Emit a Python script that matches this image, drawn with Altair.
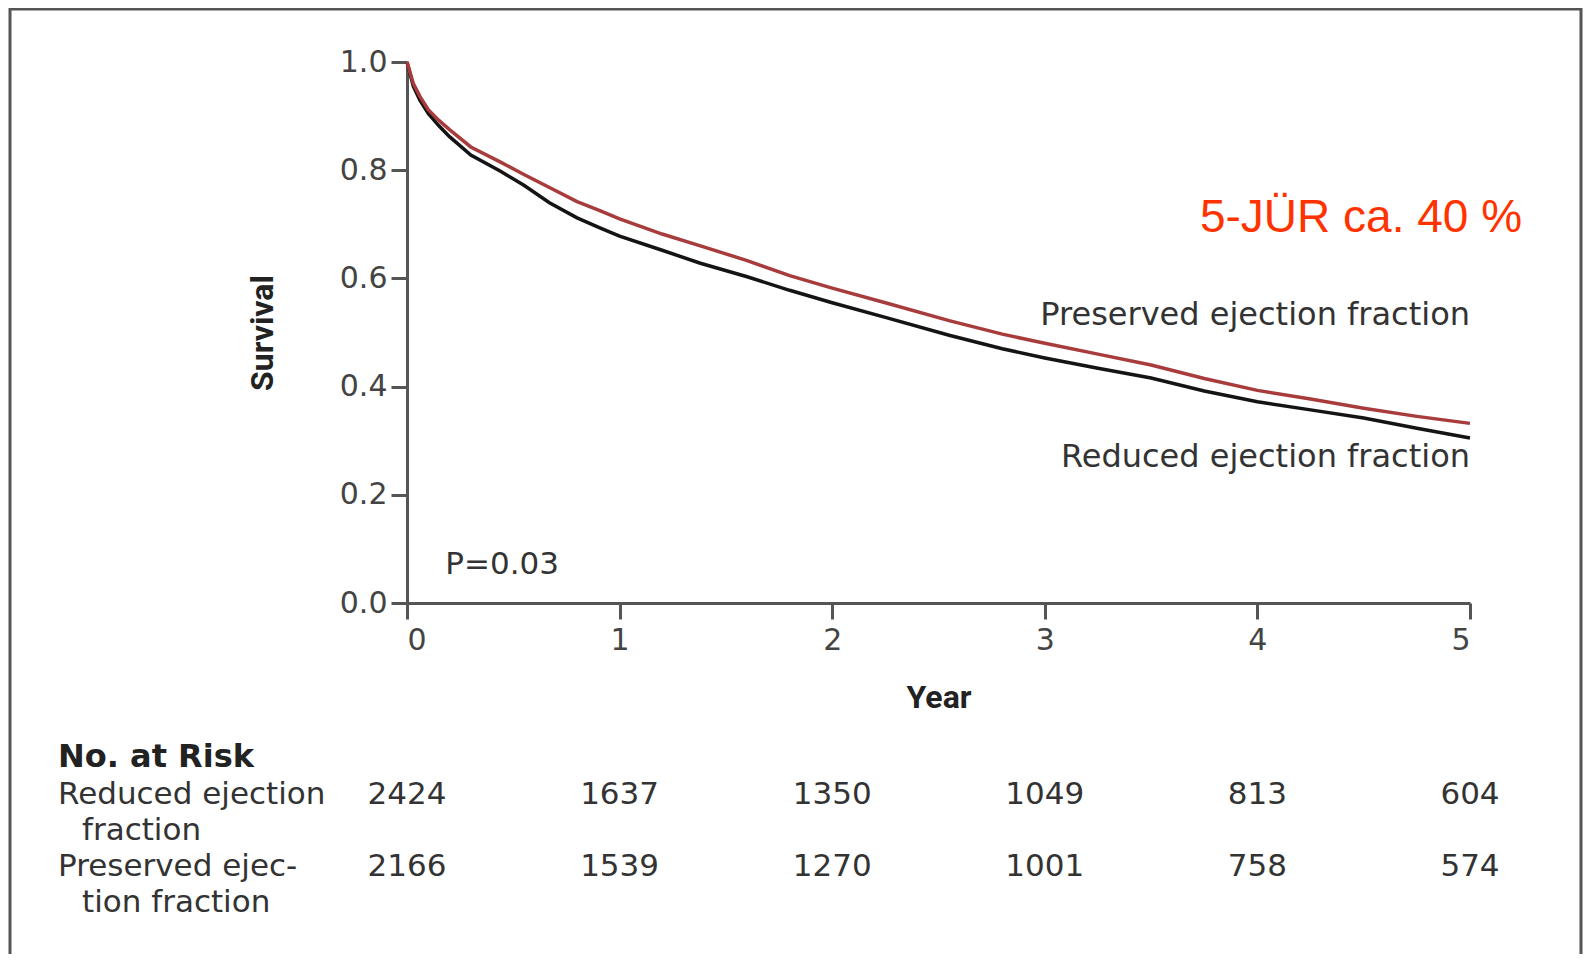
import altair as alt
import pandas as pd

# ---- data ----
years_reduced = [0, 0.03, 0.06, 0.1, 0.15, 0.2, 0.3, 0.44, 0.55, 0.67, 0.8, 0.91, 1.0, 1.2, 1.38,
                 1.6, 1.8, 2.0, 2.25, 2.55, 2.8, 3.0, 3.25, 3.5, 3.75, 4.0, 4.25, 4.5, 4.75, 5.0]
surv_reduced = [1.0, 0.955, 0.93, 0.905, 0.882, 0.862, 0.828, 0.798, 0.772, 0.74, 0.712, 0.693, 0.678,
                0.652, 0.628, 0.603, 0.578, 0.555, 0.528, 0.495, 0.47, 0.453, 0.434, 0.416, 0.392,
                0.372, 0.357, 0.342, 0.323, 0.305]
years_preserved = years_reduced
surv_preserved = [1.0, 0.96, 0.937, 0.912, 0.892, 0.875, 0.843, 0.815, 0.792, 0.768, 0.742, 0.725, 0.71,
                  0.682, 0.66, 0.633, 0.605, 0.582, 0.555, 0.522, 0.497, 0.48, 0.46, 0.44, 0.415,
                  0.393, 0.377, 0.36, 0.345, 0.332]

groups = ["Reduced ejection fraction", "Preserved ejection fraction"]
group_colors = ["#141414", "#a83c3c"]

risk_years = [0, 1, 2, 3, 4, 5]
risk_reduced = [2424, 1637, 1350, 1049, 813, 604]
risk_preserved = [2166, 1539, 1270, 1001, 758, 574]

x_ticks = [0, 1, 2, 3, 4, 5]
y_ticks = [0.0, 0.2, 0.4, 0.6, 0.8, 1.0]

curve_labels = ["Preserved ejection fraction", "Reduced ejection fraction"]
curve_label_x = [5, 5]
curve_label_y = [0.532, 0.270]

p_text = ["P=0.03"]
p_x = [0.18]
p_y = [0.070]

note_text = ["5-JÜR ca. 40 %"]
note_x = [5.245]
note_y = [0.712]

# ---- tables ----
curves = pd.DataFrame({
    "year": years_reduced + years_preserved,
    "surv": surv_reduced + surv_preserved,
    "group": [groups[0]] * len(years_reduced) + [groups[1]] * len(years_preserved),
})
risk1 = pd.DataFrame({"year": risk_years, "n": risk_reduced})
risk2 = pd.DataFrame({"year": risk_years, "n": risk_preserved})
lab_df = pd.DataFrame({"year": curve_label_x, "surv": curve_label_y, "t": curve_labels})
p_df = pd.DataFrame({"year": p_x, "surv": p_y, "t": p_text})
note_df = pd.DataFrame({"year": note_x, "surv": note_y, "t": note_text})
one = pd.DataFrame({"a": [1]})

FONT = "DejaVu Sans"
xs = alt.Scale(domain=[0, 5], nice=False)
ys = alt.Scale(domain=[0, 1], nice=False)

lines = alt.Chart(curves).mark_line(strokeWidth=3.5, clip=False).encode(
    x=alt.X("year:Q", scale=xs, axis=alt.Axis(
        values=x_ticks, format="d", title="Year", grid=False,
        domainColor="#555", domainWidth=3, tickColor="#555", tickWidth=3, tickSize=16,
        labelFont=FONT, labelFontSize=30, labelColor="#444", labelPadding=6,
        titleFont="Roboto", titleFontWeight="bold", titleFontSize=32, titleColor="#222",
        titlePadding=27)),
    y=alt.Y("surv:Q", scale=ys, axis=alt.Axis(
        values=y_ticks, format=".1f", title="Survival", grid=False,
        domainColor="#555", domainWidth=3, tickColor="#555", tickWidth=3, tickSize=16,
        labelFont=FONT, labelFontSize=30, labelColor="#444", labelPadding=4,
        titleFont="Roboto", titleFontWeight="bold", titleFontSize=32, titleColor="#222",
        titlePadding=60)),
    color=alt.Color("group:N", scale=alt.Scale(domain=groups, range=group_colors), legend=None),
    detail="group:N",
)

curve_text = alt.Chart(lab_df).mark_text(
    align="right", baseline="middle", font=FONT, fontSize=32, color="#333"
).encode(x=alt.X("year:Q", scale=xs), y=alt.Y("surv:Q", scale=ys), text="t:N")

p_mark = alt.Chart(p_df).mark_text(
    align="left", baseline="middle", font=FONT, fontSize=31, color="#333"
).encode(x=alt.X("year:Q", scale=xs), y=alt.Y("surv:Q", scale=ys), text="t:N")

note_mark = alt.Chart(note_df).mark_text(
    align="right", baseline="middle", font="Liberation Sans", fontSize=46, color="#ff3300"
).encode(x=alt.X("year:Q", scale=xs), y=alt.Y("surv:Q", scale=ys), text="t:N")

row1 = alt.Chart(risk1).mark_text(
    align="center", baseline="middle", font=FONT, fontSize=31, color="#333"
).encode(x=alt.X("year:Q", scale=xs), y=alt.value(733), text="n:Q")
row2 = alt.Chart(risk2).mark_text(
    align="center", baseline="middle", font=FONT, fontSize=31, color="#333"
).encode(x=alt.X("year:Q", scale=xs), y=alt.value(805), text="n:Q")

def label(txt, x, y, bold=False):
    return alt.Chart(one).mark_text(
        align="left", baseline="middle", font=FONT, fontSize=32 if bold else 31,
        fontWeight="bold" if bold else "normal", color="#222" if bold else "#333", text=txt
    ).encode(x=alt.value(x), y=alt.value(y))

table_labels = [
    label("No. at Risk", -349, 695, bold=True),
    label("Reduced ejection", -349, 733),
    label("fraction", -325, 769),
    label("Preserved ejec-", -349, 805),
    label("tion fraction", -325, 841),
]

frame = alt.Chart(one).mark_rect(
    fill="transparent", stroke="#555", strokeWidth=3
).encode(x=alt.value(-397), x2=alt.value(1174), y=alt.value(-53), y2=alt.value(920))

chart = alt.layer(
    frame, lines, curve_text, p_mark, note_mark, row1, row2, *table_labels
).properties(
    width=1063, height=541,
    autosize=alt.AutoSizeParams(type="none"),
    padding={"left": 399, "top": 54, "right": 114, "bottom": 351},
    background="white",
).configure_view(stroke="transparent")

chart.save("out.html", embed_options={"renderer": "svg", "actions": False})
